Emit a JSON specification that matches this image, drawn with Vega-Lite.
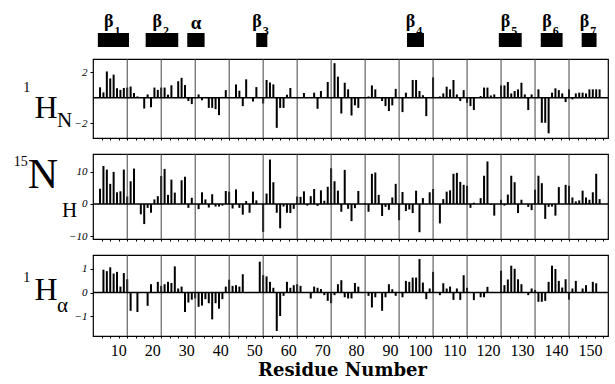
{
 "$schema": "https://vega.github.io/schema/vega-lite/v6.json",
 "padding": {"left": 13, "top": 7, "right": 2, "bottom": 0},
 "background": "white",
 "bounds": "flush",
 "spacing": 16,
 "config": {
  "font": "Liberation Serif",
  "view": {"stroke": "black", "strokeWidth": 1.2},
  "axis": {"domain": false, "labelFont": "Liberation Serif", "titleFont": "Liberation Serif", "labelColor": "black", "titleColor": "black", "tickColor": "black"}
 },
 "datasets": {
  "grid": [{"g":10},{"g":20},{"g":30},{"g":40},{"g":50},{"g":60},{"g":70},{"g":80},{"g":90},{"g":100},{"g":110},{"g":120},{"g":130},{"g":140}],
  "ss": [
   {"g": "β", "n": "1", "start": 2.8, "end": 11.8, "mid": 7.3},
   {"g": "β", "n": "2", "start": 16.6, "end": 26.0, "mid": 21.3},
   {"g": "α", "n": "", "start": 28.6, "end": 33.6, "mid": 31.1},
   {"g": "β", "n": "3", "start": 48.5, "end": 51.7, "mid": 50.1},
   {"g": "β", "n": "4", "start": 92.0, "end": 96.9, "mid": 94.4},
   {"g": "β", "n": "5", "start": 118.5, "end": 125.1, "mid": 121.8},
   {"g": "β", "n": "6", "start": 130.6, "end": 136.9, "mid": 133.8},
   {"g": "β", "n": "7", "start": 142.4, "end": 146.7, "mid": 144.6}
  ],
  "hn": [
   {"r":2,"v":0.82},{"r":3,"v":0.42},{"r":4,"v":2.07},{"r":5,"v":1.52},{"r":6,"v":1.82},{"r":7,"v":0.75},{"r":8,"v":0.62},{"r":9,"v":0.77},{"r":10,"v":0.8},{"r":11,"v":0.88},{"r":12,"v":0.37},{"r":13,"v":0.1},{"r":15,"v":-0.85},{"r":16,"v":0.26},{"r":17,"v":-0.75},{"r":18,"v":0.8},{"r":19,"v":0.62},{"r":20,"v":0.8},{"r":21,"v":0.8},{"r":22,"v":0.24},{"r":23,"v":0.98},{"r":25,"v":1.3},{"r":26,"v":1.57},{"r":27,"v":1.0},{"r":28,"v":-0.26},{"r":29,"v":-0.5},{"r":31,"v":0.26},{"r":32,"v":-0.2},{"r":34,"v":-0.8},{"r":35,"v":-0.8},{"r":36,"v":-0.9},{"r":37,"v":-1.37},{"r":39,"v":0.6},{"r":42,"v":1.05},{"r":43,"v":0.55},{"r":44,"v":-0.66},{"r":45,"v":1.45},{"r":47,"v":-0.3},{"r":48,"v":0.84},{"r":50,"v":-0.45},{"r":51,"v":1.4},{"r":52,"v":1.2},{"r":53,"v":1.05},{"r":54,"v":-2.37},{"r":55,"v":-0.8},{"r":56,"v":-0.8},{"r":57,"v":0.24},{"r":58,"v":0.77},{"r":62,"v":0.37},{"r":65,"v":0.4},{"r":66,"v":-0.87},{"r":67,"v":0.53},{"r":69,"v":1.24},{"r":71,"v":2.72},{"r":72,"v":1.66},{"r":73,"v":-1.24},{"r":74,"v":1.18},{"r":75,"v":0.66},{"r":76,"v":-1.4},{"r":77,"v":-0.6},{"r":78,"v":-0.8},{"r":81,"v":0.1},{"r":82,"v":0.97},{"r":83,"v":0.66},{"r":85,"v":-0.26},{"r":86,"v":-0.66},{"r":87,"v":-1.05},{"r":88,"v":-0.6},{"r":89,"v":0.7},{"r":91,"v":-1.13},{"r":92,"v":0.4},{"r":94,"v":1.4},{"r":95,"v":1.4},{"r":96,"v":0.53},{"r":97,"v":0.2},{"r":98,"v":-1.45},{"r":100,"v":1.6},{"r":102,"v":0.1},{"r":103,"v":0.34},{"r":104,"v":0.87},{"r":105,"v":0.66},{"r":106,"v":1.4},{"r":107,"v":0.26},{"r":108,"v":-0.26},{"r":109,"v":0.6},{"r":110,"v":-0.4},{"r":111,"v":-0.66},{"r":112,"v":-0.97},{"r":114,"v":0.13},{"r":115,"v":0.8},{"r":116,"v":0.8},{"r":117,"v":0.18},{"r":118,"v":0.26},{"r":120,"v":0.97},{"r":121,"v":0.97},{"r":122,"v":1.24},{"r":123,"v":0.34},{"r":124,"v":0.53},{"r":125,"v":0.66},{"r":126,"v":1.18},{"r":127,"v":0.26},{"r":128,"v":-0.97},{"r":129,"v":0.26},{"r":131,"v":0.66},{"r":132,"v":-1.97},{"r":133,"v":-1.97},{"r":134,"v":-2.8},{"r":135,"v":0.4},{"r":136,"v":0.74},{"r":137,"v":0.6},{"r":138,"v":0.34},{"r":139,"v":-0.34},{"r":140,"v":0.66},{"r":141,"v":-0.13},{"r":142,"v":0.34},{"r":143,"v":0.4},{"r":144,"v":0.4},{"r":145,"v":0.34},{"r":146,"v":0.66},{"r":147,"v":0.66},{"r":148,"v":0.66},{"r":149,"v":0.66}
  ],
  "nh": [
   {"r":2,"v":4.7},{"r":3,"v":11.7},{"r":4,"v":10.6},{"r":5,"v":6.2},{"r":6,"v":9.9},{"r":7,"v":3.6},{"r":8,"v":3.9},{"r":9,"v":10.6},{"r":10,"v":2.3},{"r":11,"v":7.0},{"r":12,"v":10.9},{"r":14,"v":-3.2},{"r":15,"v":-6.2},{"r":16,"v":-1.2},{"r":17,"v":-2.7},{"r":18,"v":1.4},{"r":19,"v":2.4},{"r":20,"v":8.6},{"r":21,"v":10.8},{"r":22,"v":2.8},{"r":23,"v":7.5},{"r":24,"v":3.5},{"r":26,"v":7.3},{"r":27,"v":8.4},{"r":28,"v":-1.2},{"r":29,"v":1.9},{"r":31,"v":-1.6},{"r":32,"v":3.6},{"r":33,"v":1.4},{"r":34,"v":-1.1},{"r":35,"v":3.0},{"r":36,"v":-0.8},{"r":37,"v":-0.8},{"r":38,"v":-0.5},{"r":39,"v":4.0},{"r":40,"v":3.8},{"r":41,"v":-1.4},{"r":42,"v":4.5},{"r":43,"v":-1.2},{"r":44,"v":-3.3},{"r":45,"v":0.9},{"r":46,"v":-2.7},{"r":47,"v":3.8},{"r":48,"v":1.1},{"r":50,"v":-8.6},{"r":51,"v":3.2},{"r":52,"v":13.7},{"r":53,"v":6.7},{"r":54,"v":-2.7},{"r":55,"v":-7.5},{"r":56,"v":-0.8},{"r":57,"v":-2.7},{"r":58,"v":-2.8},{"r":59,"v":-1.5},{"r":60,"v":2.3},{"r":61,"v":2.2},{"r":62,"v":3.9},{"r":63,"v":-0.5},{"r":64,"v":2.4},{"r":65,"v":4.6},{"r":66,"v":-0.6},{"r":67,"v":4.2},{"r":68,"v":1.0},{"r":69,"v":5.3},{"r":70,"v":11.0},{"r":71,"v":7.0},{"r":72,"v":4.1},{"r":73,"v":-2.4},{"r":74,"v":10.5},{"r":75,"v":-1.5},{"r":76,"v":-5.3},{"r":77,"v":-1.3},{"r":78,"v":4.0},{"r":80,"v":0.3},{"r":81,"v":-2.4},{"r":82,"v":9.3},{"r":83,"v":9.7},{"r":84,"v":2.8},{"r":85,"v":-3.7},{"r":86,"v":-0.9},{"r":87,"v":-1.8},{"r":88,"v":2.0},{"r":89,"v":6.2},{"r":90,"v":-5.0},{"r":91,"v":3.7},{"r":92,"v":-2.2},{"r":93,"v":-1.7},{"r":94,"v":-2.8},{"r":95,"v":4.1},{"r":96,"v":-8.7},{"r":97,"v":1.8},{"r":99,"v":3.6},{"r":100,"v":4.6},{"r":102,"v":-6.0},{"r":103,"v":1.5},{"r":104,"v":3.8},{"r":105,"v":4.2},{"r":106,"v":9.3},{"r":107,"v":9.6},{"r":108,"v":6.8},{"r":109,"v":5.9},{"r":110,"v":5.6},{"r":111,"v":-1.2},{"r":112,"v":0.4},{"r":114,"v":1.8},{"r":115,"v":8.7},{"r":116,"v":13.1},{"r":117,"v":-0.3},{"r":118,"v":-3.6},{"r":120,"v":1.3},{"r":121,"v":-0.5},{"r":122,"v":2.9},{"r":123,"v":8.7},{"r":124,"v":6.7},{"r":125,"v":-2.8},{"r":126,"v":1.3},{"r":128,"v":-0.9},{"r":129,"v":-1.9},{"r":130,"v":4.4},{"r":131,"v":8.7},{"r":132,"v":6.4},{"r":133,"v":-4.6},{"r":134,"v":-0.9},{"r":135,"v":-0.8},{"r":136,"v":-3.6},{"r":137,"v":5.2},{"r":139,"v":5.9},{"r":140,"v":5.6},{"r":141,"v":2.0},{"r":142,"v":0.8},{"r":143,"v":1.1},{"r":144,"v":4.1},{"r":145,"v":2.0},{"r":146,"v":1.3},{"r":147,"v":3.6},{"r":148,"v":9.3},{"r":149,"v":1.5}
  ],
  "ha": [
   {"r":3,"v":0.96},{"r":4,"v":0.9},{"r":5,"v":1.06},{"r":6,"v":0.8},{"r":7,"v":0.87},{"r":8,"v":0.25},{"r":9,"v":0.82},{"r":10,"v":0.56},{"r":11,"v":-0.77},{"r":13,"v":-0.82},{"r":16,"v":-0.56},{"r":17,"v":0.35},{"r":19,"v":0.45},{"r":20,"v":0.28},{"r":21,"v":0.35},{"r":22,"v":0.45},{"r":23,"v":0.4},{"r":24,"v":1.1},{"r":25,"v":0.17},{"r":26,"v":0.25},{"r":27,"v":-0.82},{"r":28,"v":-0.42},{"r":29,"v":-0.3},{"r":30,"v":-0.25},{"r":31,"v":-0.6},{"r":32,"v":-0.55},{"r":33,"v":-0.28},{"r":34,"v":-0.45},{"r":35,"v":-1.13},{"r":36,"v":-0.45},{"r":37,"v":-0.68},{"r":38,"v":-0.28},{"r":39,"v":0.25},{"r":40,"v":0.54},{"r":41,"v":0.28},{"r":42,"v":0.31},{"r":43,"v":0.25},{"r":44,"v":0.77},{"r":49,"v":1.3},{"r":50,"v":0.73},{"r":51,"v":0.68},{"r":52,"v":0.45},{"r":53,"v":0.2},{"r":54,"v":-1.62},{"r":55,"v":-0.99},{"r":56,"v":-0.14},{"r":57,"v":0.45},{"r":58,"v":0.2},{"r":59,"v":0.31},{"r":60,"v":0.35},{"r":61,"v":0.28},{"r":64,"v":-0.25},{"r":65,"v":0.25},{"r":66,"v":0.2},{"r":67,"v":0.15},{"r":68,"v":-0.11},{"r":69,"v":-0.35},{"r":70,"v":-0.45},{"r":71,"v":-0.11},{"r":72,"v":0.35},{"r":73,"v":0.52},{"r":74,"v":-0.2},{"r":75,"v":-0.25},{"r":76,"v":-0.25},{"r":77,"v":0.4},{"r":78,"v":0.25},{"r":81,"v":-0.14},{"r":82,"v":-0.63},{"r":83,"v":-0.2},{"r":85,"v":-0.77},{"r":86,"v":-0.2},{"r":87,"v":0.35},{"r":88,"v":0.14},{"r":89,"v":-0.14},{"r":91,"v":-0.2},{"r":92,"v":0.49},{"r":93,"v":0.45},{"r":94,"v":0.63},{"r":95,"v":0.63},{"r":96,"v":1.41},{"r":97,"v":0.42},{"r":98,"v":-0.28},{"r":99,"v":0.17},{"r":100,"v":0.87},{"r":102,"v":-0.11},{"r":103,"v":0.39},{"r":104,"v":0.17},{"r":105,"v":0.25},{"r":106,"v":-0.31},{"r":107,"v":0.17},{"r":108,"v":-0.31},{"r":109,"v":0.73},{"r":110,"v":0.2},{"r":112,"v":-0.32},{"r":114,"v":-0.2},{"r":115,"v":-0.2},{"r":116,"v":0.24},{"r":120,"v":0.92},{"r":121,"v":0.31},{"r":122,"v":0.55},{"r":123,"v":1.13},{"r":124,"v":1.0},{"r":125,"v":0.56},{"r":126,"v":0.35},{"r":128,"v":-0.11},{"r":129,"v":0.17},{"r":130,"v":0.11},{"r":131,"v":-0.39},{"r":132,"v":-0.39},{"r":133,"v":-0.35},{"r":134,"v":0.45},{"r":135,"v":1.13},{"r":136,"v":0.99},{"r":137,"v":0.49},{"r":138,"v":0.21},{"r":139,"v":0.56},{"r":140,"v":-0.3},{"r":141,"v":0.17},{"r":142,"v":0.49},{"r":144,"v":0.17},{"r":145,"v":0.31},{"r":147,"v":0.45},{"r":148,"v":0.39}
  ]
 },
 "vconcat": [
  {
   "width": 515, "height": 36,
   "view": {"stroke": null},
   "data": {"name": "ss"},
   "layer": [
    {"mark": {"type": "rect", "color": "black"},
     "encoding": {
      "x": {"field": "start", "type": "quantitative", "scale": {"domain": [1.4, 150], "nice": false, "zero": false}, "axis": null},
      "x2": {"field": "end"},
      "y": {"datum": 0.278, "type": "quantitative", "scale": {"domain": [0, 1], "nice": false}, "axis": null},
      "y2": {"datum": -0.111}}},
    {"transform": [{"filter": "datum.g == 'β'"}],
     "mark": {"type": "text", "align": "right", "baseline": "alphabetic", "fontSize": 18, "fontWeight": "bold", "color": "black"},
     "encoding": {"x": {"field": "mid", "type": "quantitative"}, "y": {"datum": 0.444, "type": "quantitative"}, "text": {"field": "g"}}},
    {"transform": [{"filter": "datum.g == 'β'"}],
     "mark": {"type": "text", "align": "left", "baseline": "alphabetic", "fontSize": 12, "fontWeight": "bold", "dx": 1, "color": "black"},
     "encoding": {"x": {"field": "mid", "type": "quantitative"}, "y": {"datum": 0.222, "type": "quantitative"}, "text": {"field": "n"}}},
    {"transform": [{"filter": "datum.g == 'α'"}],
     "mark": {"type": "text", "align": "center", "baseline": "alphabetic", "fontSize": 19, "fontWeight": "bold", "color": "black"},
     "encoding": {"x": {"field": "mid", "type": "quantitative"}, "y": {"datum": 0.39, "type": "quantitative"}, "text": {"field": "g"}}}
   ]
  },
  {
   "width": 515, "height": 79,
   "layer": [
    {"data": {"name": "hn"},
     "mark": {"type": "bar", "width": 2, "color": "black"},
     "encoding": {
      "x": {"field": "r", "type": "quantitative", "scale": {"domain": [1.4, 150], "nice": false, "zero": false},
            "axis": {"values": [2.5,5,7.5,10,12.5,15,17.5,20,22.5,25,27.5,30,32.5,35,37.5,40,42.5,45,47.5,50,52.5,55,57.5,60,62.5,65,67.5,70,72.5,75,77.5,80,82.5,85,87.5,90,92.5,95,97.5,100,102.5,105,107.5,110,112.5,115,117.5,120,122.5,125,127.5,130,132.5,135,137.5,140,142.5,145,147.5,150], "tickCount": 100, "labels": false, "grid": false, "tickSize": 2, "title": null}},
      "y": {"field": "v", "type": "quantitative", "scale": {"domain": [-3.17, 3.05], "nice": false, "zero": false},
            "axis": {"values": [-2, 0, 2], "grid": false, "tickSize": 3, "labelPadding": 3, "labelFontSize": 11, "labelFontStyle": "italic", "title": null}},
      "y2": {"datum": 0}}},
    {"data": {"name": "grid"}, "mark": {"type": "rule", "color": "#444", "strokeWidth": 1}, "encoding": {"x": {"field": "g", "type": "quantitative"}}},
    {"data": {"values": [{}]}, "mark": {"type": "rule", "color": "black", "strokeWidth": 1.5}, "encoding": {"y": {"datum": 0, "type": "quantitative"}}},
    {"data": {"values": [{}]}, "mark": {"type": "text", "text": "1", "align": "right", "baseline": "alphabetic", "fontSize": 14, "color": "black"},
     "encoding": {"x": {"datum": -18.5, "type": "quantitative"}, "y": {"datum": 0.45, "type": "quantitative"}}},
    {"data": {"values": [{}]}, "mark": {"type": "text", "text": "H", "align": "left", "baseline": "alphabetic", "fontSize": 32, "color": "black"},
     "encoding": {"x": {"datum": -17.3, "type": "quantitative"}, "y": {"datum": -1.6, "type": "quantitative"}}},
    {"data": {"values": [{}]}, "mark": {"type": "text", "text": "N", "align": "left", "baseline": "alphabetic", "fontSize": 21, "color": "black"},
     "encoding": {"x": {"datum": -10.7, "type": "quantitative"}, "y": {"datum": -2.3, "type": "quantitative"}}}
   ]
  },
  {
   "width": 515, "height": 85,
   "layer": [
    {"data": {"name": "nh"},
     "mark": {"type": "bar", "width": 2, "color": "black"},
     "encoding": {
      "x": {"field": "r", "type": "quantitative", "scale": {"domain": [1.4, 150], "nice": false, "zero": false},
            "axis": {"values": [2.5,5,7.5,10,12.5,15,17.5,20,22.5,25,27.5,30,32.5,35,37.5,40,42.5,45,47.5,50,52.5,55,57.5,60,62.5,65,67.5,70,72.5,75,77.5,80,82.5,85,87.5,90,92.5,95,97.5,100,102.5,105,107.5,110,112.5,115,117.5,120,122.5,125,127.5,130,132.5,135,137.5,140,142.5,145,147.5,150], "tickCount": 100, "labels": false, "grid": false, "tickSize": 2, "title": null}},
      "y": {"field": "v", "type": "quantitative", "scale": {"domain": [-10.8, 15.4], "nice": false, "zero": false},
            "axis": {"values": [-10, 0, 10], "grid": false, "tickSize": 3, "labelPadding": 3, "labelFontSize": 11, "labelFontStyle": "italic", "title": null}},
      "y2": {"datum": 0}}},
    {"data": {"name": "grid"}, "mark": {"type": "rule", "color": "#444", "strokeWidth": 1}, "encoding": {"x": {"field": "g", "type": "quantitative"}}},
    {"data": {"values": [{}]}, "mark": {"type": "rule", "color": "black", "strokeWidth": 1.5}, "encoding": {"y": {"datum": 0, "type": "quantitative"}}},
    {"data": {"values": [{}]}, "mark": {"type": "text", "text": "15", "align": "right", "baseline": "alphabetic", "fontSize": 14, "color": "black"},
     "encoding": {"x": {"datum": -19.3, "type": "quantitative"}, "y": {"datum": 11.7, "type": "quantitative"}}},
    {"data": {"values": [{}]}, "mark": {"type": "text", "text": "N", "align": "left", "baseline": "alphabetic", "fontSize": 42, "color": "black"},
     "encoding": {"x": {"datum": -19.3, "type": "quantitative"}, "y": {"datum": 4.9, "type": "quantitative"}}},
    {"data": {"values": [{}]}, "mark": {"type": "text", "text": "H", "align": "left", "baseline": "alphabetic", "fontSize": 21, "color": "black"},
     "encoding": {"x": {"datum": -9.2, "type": "quantitative"}, "y": {"datum": -4.0, "type": "quantitative"}}}
   ]
  },
  {
   "width": 515, "height": 81,
   "layer": [
    {"data": {"name": "ha"},
     "mark": {"type": "bar", "width": 2, "color": "black"},
     "encoding": {
      "x": {"field": "r", "type": "quantitative", "scale": {"domain": [1.4, 150], "nice": false, "zero": false},
            "axis": {"values": [2.5,5,7.5,10,12.5,15,17.5,20,22.5,25,27.5,30,32.5,35,37.5,40,42.5,45,47.5,50,52.5,55,57.5,60,62.5,65,67.5,70,72.5,75,77.5,80,82.5,85,87.5,90,92.5,95,97.5,100,102.5,105,107.5,110,112.5,115,117.5,120,122.5,125,127.5,130,132.5,135,137.5,140,142.5,145,147.5,150], "tickCount": 100, "grid": false, "tickSize": 2,
                     "labelExpr": "datum.value % 10 == 0 ? datum.label : ''",
                     "labelAlign": "right", "labelOffset": -1, "labelFontSize": 16, "labelPadding": 4, "labelFlush": false, "labelOverlap": false,
                     "title": "Residue Number", "titleFont": "DejaVu Serif", "titleFontSize": 18, "titleFontWeight": "bold", "titlePadding": 3, "titleX": 249}},
      "y": {"field": "v", "type": "quantitative", "scale": {"domain": [-1.83, 1.58], "nice": false, "zero": false},
            "axis": {"values": [-1, 0, 1], "grid": false, "tickSize": 3, "labelPadding": 3, "labelFontSize": 11, "labelFontStyle": "italic", "title": null}},
      "y2": {"datum": 0}}},
    {"data": {"name": "grid"}, "mark": {"type": "rule", "color": "#444", "strokeWidth": 1}, "encoding": {"x": {"field": "g", "type": "quantitative"}}},
    {"data": {"values": [{}]}, "mark": {"type": "rule", "color": "black", "strokeWidth": 1.5}, "encoding": {"y": {"datum": 0, "type": "quantitative"}}},
    {"data": {"values": [{}]}, "mark": {"type": "text", "text": "1", "align": "right", "baseline": "alphabetic", "fontSize": 14, "color": "black"},
     "encoding": {"x": {"datum": -18.5, "type": "quantitative"}, "y": {"datum": 0.44, "type": "quantitative"}}},
    {"data": {"values": [{}]}, "mark": {"type": "text", "text": "H", "align": "left", "baseline": "alphabetic", "fontSize": 32, "color": "black"},
     "encoding": {"x": {"datum": -17.3, "type": "quantitative"}, "y": {"datum": -0.32, "type": "quantitative"}}},
    {"data": {"values": [{}]}, "mark": {"type": "text", "text": "α", "align": "left", "baseline": "alphabetic", "fontSize": 21, "color": "black"},
     "encoding": {"x": {"datum": -10.7, "type": "quantitative"}, "y": {"datum": -0.82, "type": "quantitative"}}}
   ]
  }
 ]
}
